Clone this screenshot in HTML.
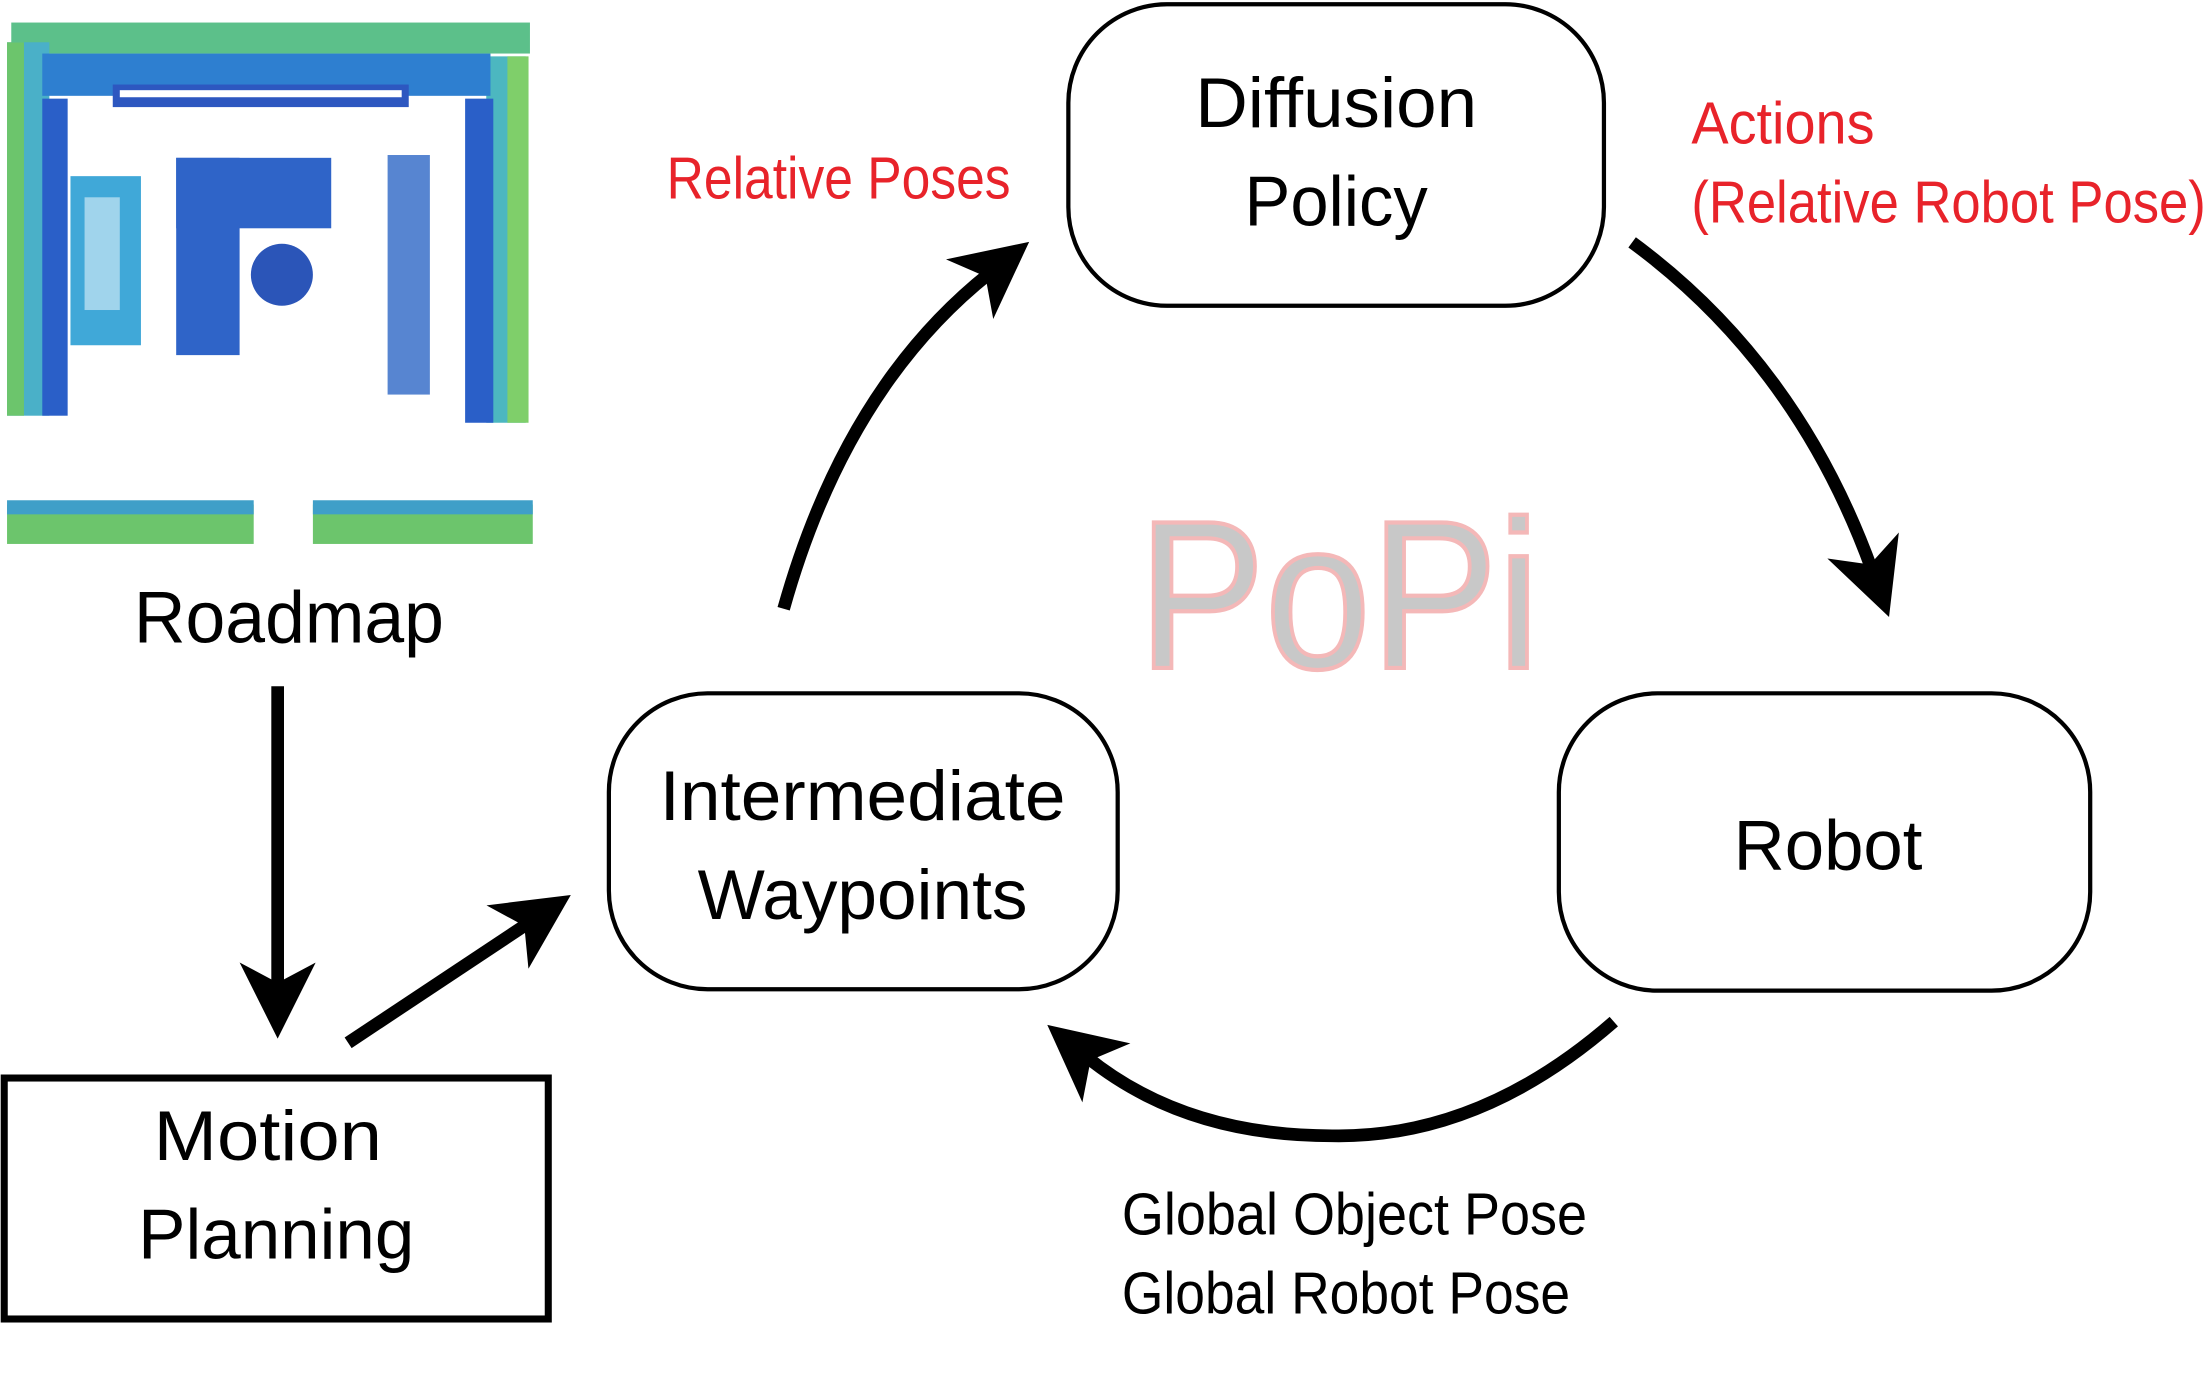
<!DOCTYPE html>
<html><head><meta charset="utf-8"><style>
html,body{margin:0;padding:0;background:#fff;}
svg{display:block;}
text{font-family:"Liberation Sans",sans-serif;}
</style></head><body>
<svg width="2210" height="1381" viewBox="0 0 1568 980" preserveAspectRatio="none" xmlns="http://www.w3.org/2000/svg">
<defs>
<marker id="ah" markerWidth="6.5" markerHeight="6" refX="2" refY="3" orient="auto" markerUnits="strokeWidth">
<path d="M0,0 L6,3 L0,6 L1.6,3 Z" fill="#000"/>
</marker>
</defs>
<!-- Roadmap image approximation -->
<g>
<rect x="8" y="16" width="368" height="22" fill="#5cc08a"/>
<rect x="5" y="30" width="30" height="265" fill="#4ab0c8"/>
<rect x="5" y="30" width="12" height="265" fill="#6cc56c"/>
<rect x="345" y="40" width="28" height="260" fill="#4cb7c0"/>
<rect x="360" y="40" width="15" height="260" fill="#7fcf6a"/>
<rect x="30" y="38" width="318" height="30" fill="#2e7fd0"/>
<rect x="80" y="60" width="210" height="16" fill="#2d57c0"/>
<rect x="85" y="64" width="200" height="5" fill="#fff"/>
<rect x="30" y="70" width="18" height="225" fill="#2a5fc8"/>
<rect x="330" y="70" width="20" height="230" fill="#2a5fc8"/>
<rect x="50" y="125" width="50" height="120" fill="#40a8d8"/>
<rect x="60" y="140" width="25" height="80" fill="#fff" opacity="0.5"/>
<rect x="125" y="112" width="110" height="50" fill="#2f64c8"/>
<rect x="125" y="112" width="45" height="140" fill="#2f64c8"/>
<circle cx="200" cy="195" r="22" fill="#2b55b8"/>
<rect x="275" y="110" width="30" height="170" fill="#2d66c5" opacity="0.8"/>
<rect x="5" y="358" width="175" height="28" fill="#6cc56c"/>
<rect x="5" y="355" width="175" height="10" fill="#3f9fc8"/>
<rect x="222" y="358" width="156" height="28" fill="#6cc56c"/>
<rect x="222" y="355" width="156" height="10" fill="#3f9fc8"/>
</g>
<text x="205" y="456" font-size="52" text-anchor="middle" textLength="220" lengthAdjust="spacingAndGlyphs">Roadmap</text>

<!-- Watermark -->
<text x="950" y="474" font-size="150" text-anchor="middle" fill="#c8c8c8" stroke="#f4b8b8" stroke-width="3" textLength="285" lengthAdjust="spacingAndGlyphs">PoPi</text>

<!-- Boxes -->
<rect x="758" y="3" width="380" height="214" rx="70" fill="#fff" stroke="#000" stroke-width="3"/>
<text x="948" y="90" font-size="50" text-anchor="middle" textLength="200" lengthAdjust="spacingAndGlyphs">Diffusion</text>
<text x="948" y="160" font-size="50" text-anchor="middle" textLength="130" lengthAdjust="spacingAndGlyphs">Policy</text>

<rect x="432" y="492" width="361" height="210" rx="70" fill="#fff" stroke="#000" stroke-width="3"/>
<text x="612" y="582" font-size="50" text-anchor="middle" textLength="288" lengthAdjust="spacingAndGlyphs">Intermediate</text>
<text x="612" y="652" font-size="50" text-anchor="middle" textLength="234" lengthAdjust="spacingAndGlyphs">Waypoints</text>

<rect x="1106" y="492" width="377" height="211" rx="70" fill="#fff" stroke="#000" stroke-width="3"/>
<text x="1297" y="617" font-size="50" text-anchor="middle" textLength="134" lengthAdjust="spacingAndGlyphs">Robot</text>

<rect x="3" y="765" width="386" height="171" fill="#fff" stroke="#000" stroke-width="5"/>
<text x="190" y="823" font-size="50" text-anchor="middle" textLength="162" lengthAdjust="spacingAndGlyphs">Motion</text>
<text x="196" y="893" font-size="50" text-anchor="middle" textLength="196" lengthAdjust="spacingAndGlyphs">Planning</text>

<!-- Arrows -->
<g fill="none" stroke="#000" stroke-width="9">
<path d="M197,487 L197,701" marker-end="url(#ah)"/>
<path d="M247,740 L375,655" marker-end="url(#ah)"/>
<path d="M556,432 Q600,275 702,194" marker-end="url(#ah)"/>
<path d="M1158,172 Q1275,258 1328,404" marker-end="url(#ah)"/>
<path d="M1145,725 Q1050,808 945,806 Q840,806 771,750" marker-end="url(#ah)"/>
</g>

<!-- Labels -->
<text x="473" y="141" font-size="42" fill="#e8232a" textLength="244" lengthAdjust="spacingAndGlyphs">Relative Poses</text>
<text x="1200" y="102" font-size="42" fill="#e8232a" textLength="130" lengthAdjust="spacingAndGlyphs">Actions</text>
<text x="1200" y="158" font-size="42" fill="#e8232a" textLength="365" lengthAdjust="spacingAndGlyphs">(Relative Robot Pose)</text>
<text x="796" y="876" font-size="42" textLength="330" lengthAdjust="spacingAndGlyphs">Global Object Pose</text>
<text x="796" y="932" font-size="42" textLength="318" lengthAdjust="spacingAndGlyphs">Global Robot Pose</text>
</svg>
</body></html>
